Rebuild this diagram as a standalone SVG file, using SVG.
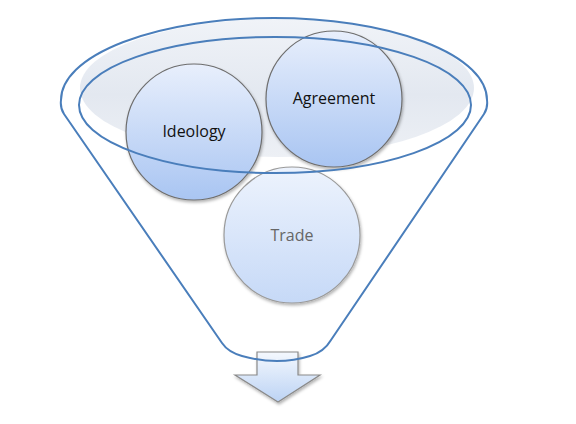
<svg xmlns="http://www.w3.org/2000/svg" width="576" height="424" viewBox="0 0 576 424">
  <defs>
    <linearGradient id="gGrey" x1="0" y1="0" x2="0" y2="1">
      <stop offset="0" stop-color="#f0f3f8"/>
      <stop offset="0.55" stop-color="#e3e8f0"/>
      <stop offset="1" stop-color="#edf0f5"/>
    </linearGradient>
    <linearGradient id="gCircle" x1="0" y1="0" x2="0" y2="1">
      <stop offset="0" stop-color="#e8effc"/>
      <stop offset="1" stop-color="#a9c5f2"/>
    </linearGradient>
    <linearGradient id="gTrade" x1="0" y1="0" x2="0" y2="1">
      <stop offset="0" stop-color="#edf3fd"/>
      <stop offset="1" stop-color="#c6d9f7"/>
    </linearGradient>
    <linearGradient id="gArrow" x1="0" y1="0" x2="0" y2="1">
      <stop offset="0" stop-color="#f4f8fe"/>
      <stop offset="1" stop-color="#bcd3f4"/>
    </linearGradient>
    <filter id="shadow" x="-20%" y="-20%" width="140%" height="140%">
      <feDropShadow dx="1" dy="2" stdDeviation="1.5" flood-color="#000" flood-opacity="0.3"/>
    </filter>
  </defs>
  <style>
    .rim { fill: none; stroke: #4a7ebb; stroke-width: 2; }
    .node { stroke: #6e6e6e; stroke-width: 1.2; filter: url(#shadow); }
    .label { font-family: "Open Sans", "Noto Sans", "Liberation Sans", sans-serif; font-size: 16px; text-anchor: middle; dominant-baseline: central; }
  </style>
  <rect width="576" height="424" fill="#ffffff"/>
  <ellipse cx="277" cy="88" rx="197" ry="69" fill="url(#gGrey)"/>
  <g id="arrow">
    <path d="M257,352 L298,352 L298,375 L320,375 L278,402 L235,375 L257,375 Z" fill="url(#gArrow)" stroke="#8a8a8a" stroke-width="1.2" filter="url(#shadow)"/>
  </g>
  <g id="trade">
    <circle cx="292" cy="235" r="68" fill="url(#gTrade)" stroke="#9a9a9a" stroke-width="1.2" filter="url(#shadow)"/>
    <text class="label" x="292" y="235" fill="#666666">Trade</text>
  </g>
  <g id="ideology">
    <circle class="node" cx="194" cy="132" r="68" fill="url(#gCircle)"/>
    <text class="label" x="194" y="131" fill="#111111">Ideology</text>
  </g>
  <g id="agreement">
    <circle class="node" cx="334" cy="99" r="68" fill="url(#gCircle)"/>
    <text class="label" x="334" y="98" fill="#111111">Agreement</text>
  </g>
  <g id="connectors">
    <path class="rim" d="M64,114 Q60,108 61,100 A213,82 0 0 1 487,100 Q488,108 484,114 L331,340 Q324,352 310,356 Q278,366 242,356 Q228,352 222,343 Z"/>
    <ellipse class="rim" cx="275" cy="105" rx="196" ry="68"/>
  </g>
</svg>
